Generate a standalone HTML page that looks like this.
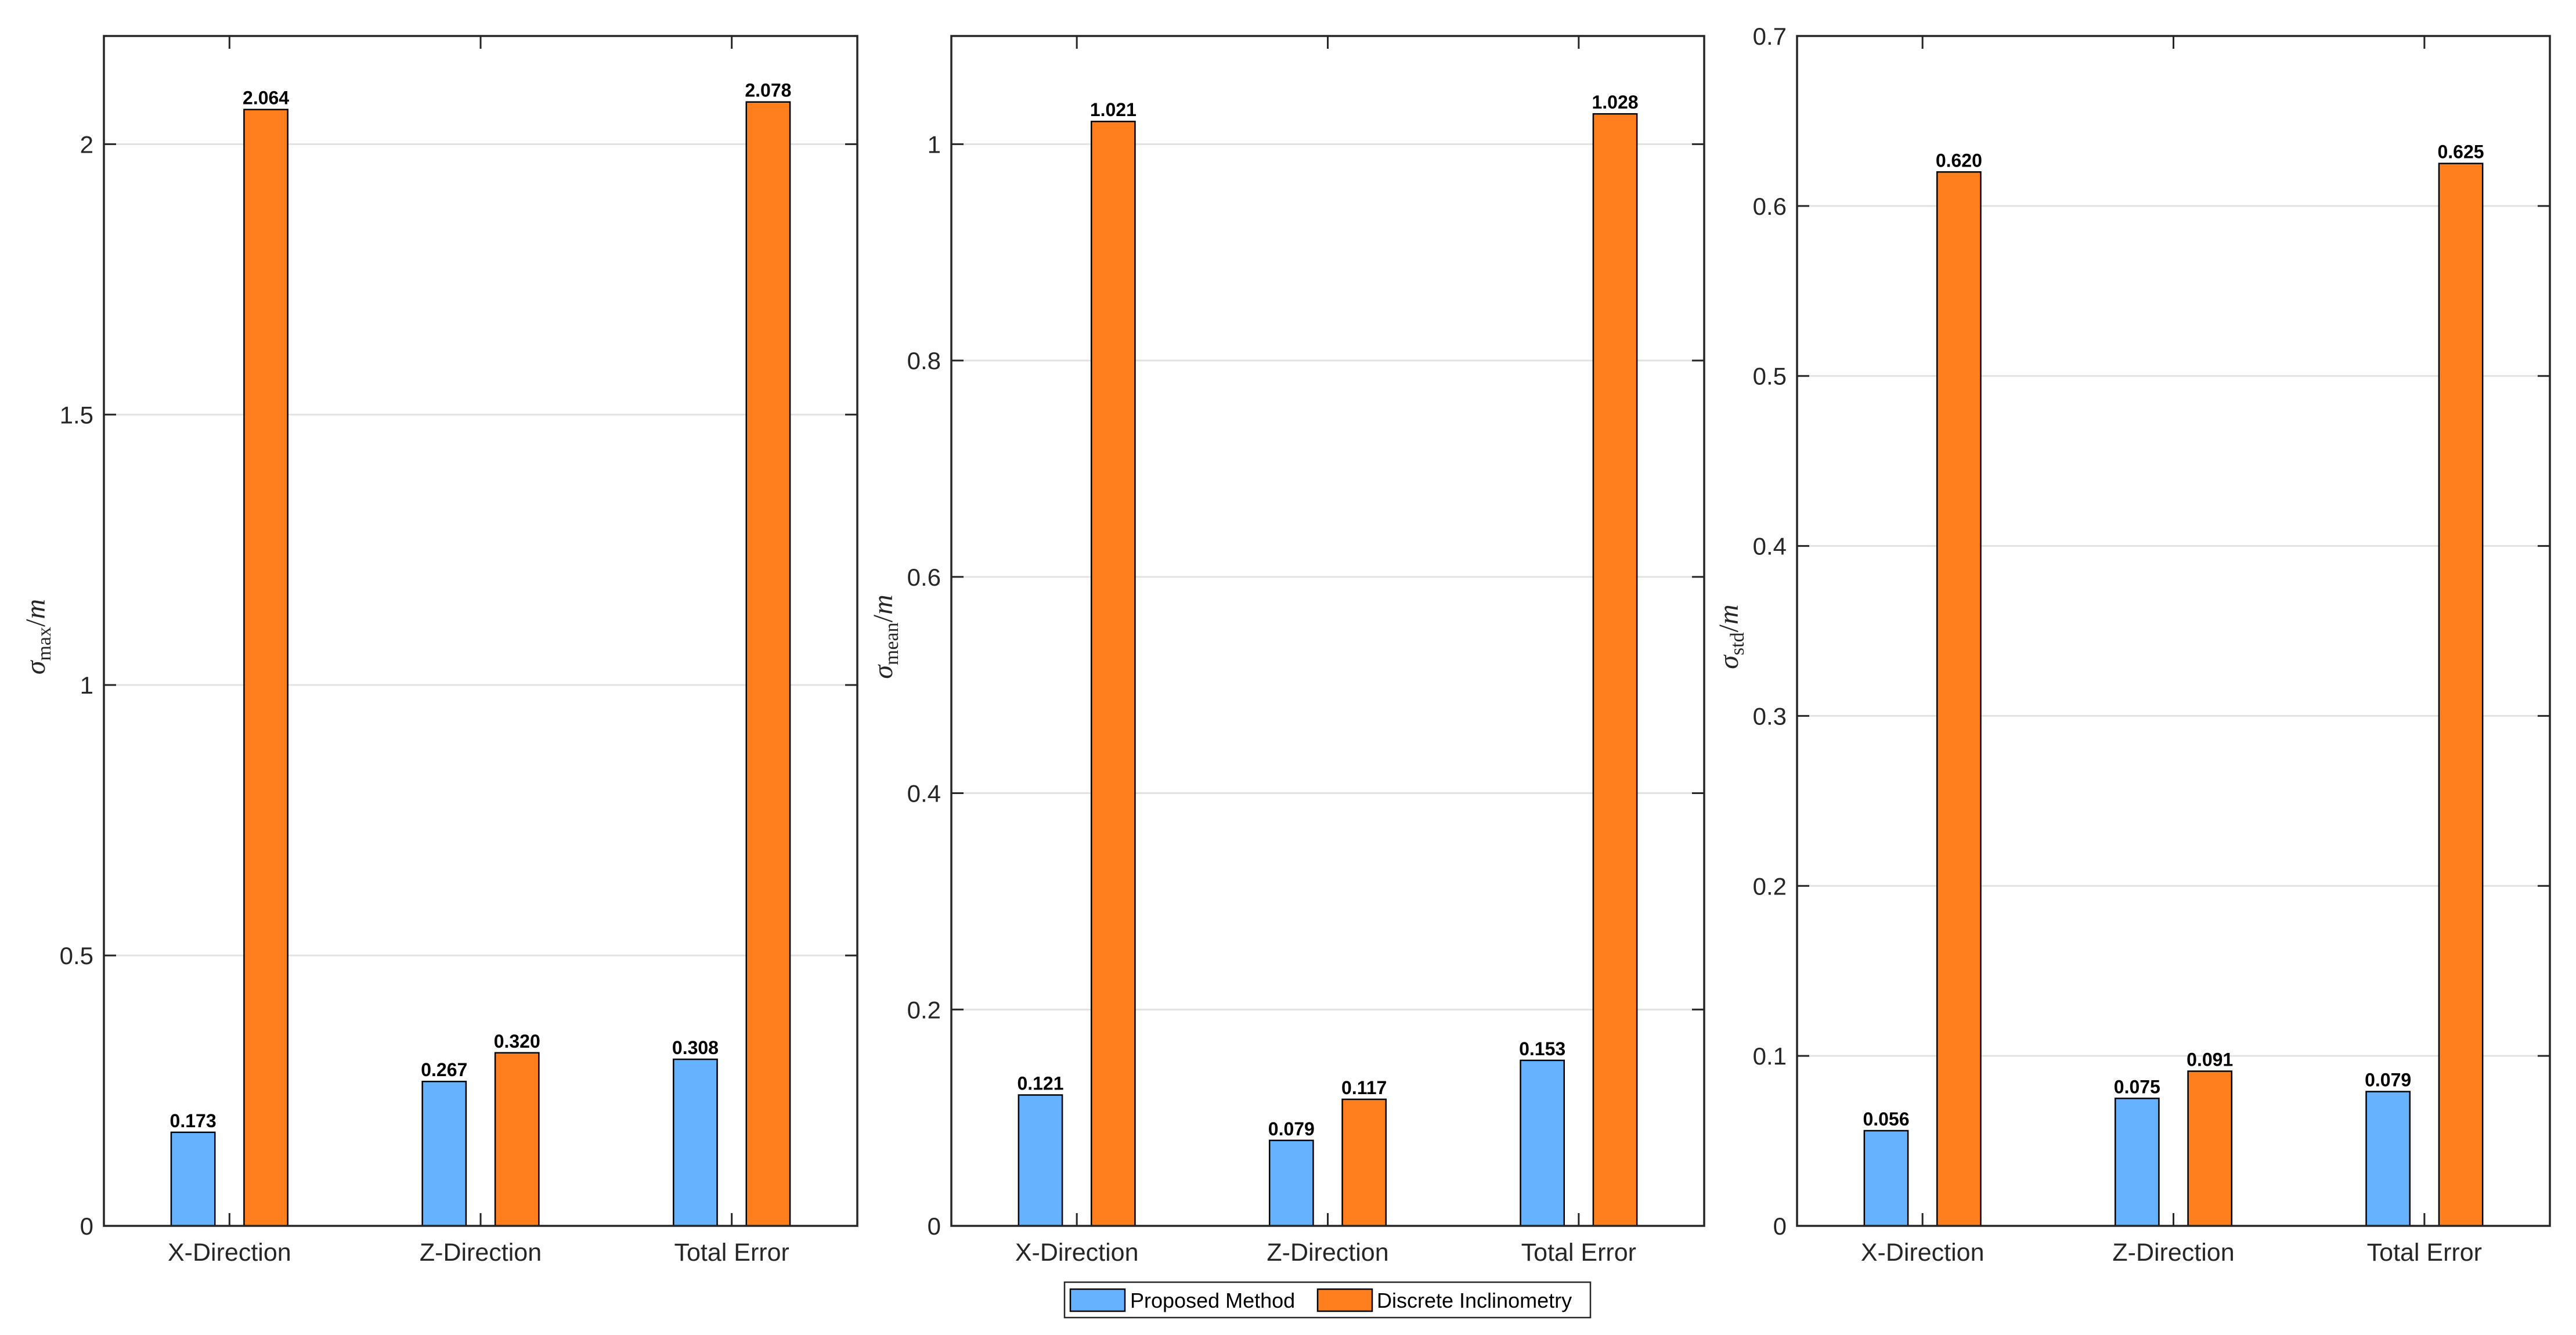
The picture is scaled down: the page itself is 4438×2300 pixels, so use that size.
<!DOCTYPE html>
<html><head><meta charset="utf-8"><style>
html,body{margin:0;padding:0;background:#fff;}
svg{display:block;}
text{font-family:"Liberation Sans",Arial,sans-serif;}
</style></head>
<body>
<svg id="chart" width="4438" height="2300" viewBox="0 0 4438 2300" xmlns="http://www.w3.org/2000/svg">
<rect width="4438" height="2300" fill="#fff"/>
<g id="plots"></g>
<g>
  <rect x="1834" y="2209" width="906" height="61" fill="#fff" stroke="#262626" stroke-width="2.5"/>
  <rect x="1844" y="2221" width="94" height="38" fill="#66B2FF" stroke="#000" stroke-width="2.5"/>
  <text x="1947" y="2253" font-size="36" fill="#000">Proposed Method</text>
  <rect x="2270" y="2221" width="94" height="38" fill="#FF7F1E" stroke="#000" stroke-width="2.5"/>
  <text x="2372" y="2253" font-size="36" fill="#000">Discrete Inclinometry</text>
</g>
</svg>
<script>
const categories = ["X-Direction", "Z-Direction", "Total Error"];
const proposedMax = [0.173, 0.267, 0.308];
const discreteMax = [2.064, 0.320, 2.078];
const proposedMean = [0.121, 0.079, 0.153];
const discreteMean = [1.021, 0.117, 1.028];
const proposedStd = [0.056, 0.075, 0.079];
const discreteStd = [0.620, 0.091, 0.625];
const ticksMax = [0, 0.5, 1, 1.5, 2];
const ticksMean = [0, 0.2, 0.4, 0.6, 0.8, 1];
const ticksStd = [0, 0.1, 0.2, 0.3, 0.4, 0.5, 0.6, 0.7];
const tickLabelsMax = ["0", "0.5", "1", "1.5", "2"];
const tickLabelsMean = ["0", "0.2", "0.4", "0.6", "0.8", "1"];
const tickLabelsStd = ["0", "0.1", "0.2", "0.3", "0.4", "0.5", "0.6", "0.7"];
const yMaxes = [2.2, 1.1, 0.7];
const subs = ["max", "mean", "std"];

const NS = "http://www.w3.org/2000/svg";
const plotsRoot = document.getElementById("plots");
function mk(tag, attrs, parent) {
  const e = document.createElementNS(NS, tag);
  for (const k in attrs) e.setAttribute(k, attrs[k]);
  parent.appendChild(e);
  return e;
}
const panels = [
  {left:179, right:1477, p:proposedMax, d:discreteMax, t:ticksMax, tl:tickLabelsMax, ymax:yMaxes[0], sub:subs[0], nm:"max"},
  {left:1639, right:2936, p:proposedMean, d:discreteMean, t:ticksMean, tl:tickLabelsMean, ymax:yMaxes[1], sub:subs[1], nm:"mean"},
  {left:3096, right:4393, p:proposedStd, d:discreteStd, t:ticksStd, tl:tickLabelsStd, ymax:yMaxes[2], sub:subs[2], nm:"std"}
];
const plotTop = 62, plotBottom = 2112;
panels.forEach(P => {
  const g = mk("g", {}, plotsRoot);
  
  
  const W = P.right - P.left;
  const xs = v => P.left + (v - 0.5) / 3 * W;
  const ys = v => plotBottom - v / P.ymax * (plotBottom - plotTop);
  P.t.forEach((tv, i) => {
    const y = ys(tv);
    if (tv > 0) {
      const gl = mk("line", {x1:P.left, x2:P.right, y1:y, y2:y, stroke:"#e2e2e2", "stroke-width":3}, g);
      
      
    }
    mk("line", {x1:P.left, x2:P.left+21, y1:y, y2:y, stroke:"#262626", "stroke-width":3}, g);
    mk("line", {x1:P.right-21, x2:P.right, y1:y, y2:y, stroke:"#262626", "stroke-width":3}, g);
    const tl = mk("text", {x:P.left-18, y:y+15, "font-size":42, fill:"#262626", "text-anchor":"end"}, g);
    tl.textContent = P.tl[i];
    
    
  });
  const bw = 0.174, off = 0.145;
  categories.forEach((c, i) => {
    const cx = xs(i + 1);
    [[P.p[i], -off, "#66B2FF", "bar-proposed"], [P.d[i], off, "#FF7F1E", "bar-discrete"]].forEach(([v, o, col, nm]) => {
      const x0 = xs(i + 1 + o - bw/2), x1 = xs(i + 1 + o + bw/2);
      const b = mk("rect", {x:x0, y:ys(v), width:x1-x0, height:plotBottom-ys(v), fill:col, stroke:"#000", "stroke-width":2.5}, g);
      
      
      const vl = mk("text", {x:(x0+x1)/2, y:ys(v)-9, "font-size":32, "font-weight":"bold", fill:"#000", "text-anchor":"middle"}, g);
      vl.textContent = v.toFixed(3);
      
      
    });
    mk("line", {x1:cx, x2:cx, y1:plotBottom, y2:plotBottom-22, stroke:"#262626", "stroke-width":3}, g);
    mk("line", {x1:cx, x2:cx, y1:plotTop, y2:plotTop+22, stroke:"#262626", "stroke-width":3}, g);
    const cl = mk("text", {x:cx, y:2172, "font-size":43, fill:"#262626", "text-anchor":"middle"}, g);
    cl.textContent = c;
    
    
  });
  const box = mk("rect", {x:P.left, y:plotTop, width:W, height:plotBottom-plotTop, fill:"none", stroke:"#262626", "stroke-width":3.5}, g);
  
  
  const lx = P.left - 114, ly = (plotTop + plotBottom) / 2 + 10;
  const yl = mk("text", {x:lx, y:ly, transform:`rotate(-90 ${lx} ${ly})`, "text-anchor":"middle", "font-size":48, fill:"#262626", style:"font-family:'Liberation Serif',serif"}, g);
  
  
  const s1 = mk("tspan", {"font-style":"italic", dy:12}, yl); s1.textContent = "σ";
  const s2 = mk("tspan", {"font-size":34, dy:10}, yl); s2.textContent = P.sub;
  const s3 = mk("tspan", {dy:-10}, yl); s3.textContent = "/";
  const s4 = mk("tspan", {"font-style":"italic"}, yl); s4.textContent = "m";
});
</script>
</body></html>
